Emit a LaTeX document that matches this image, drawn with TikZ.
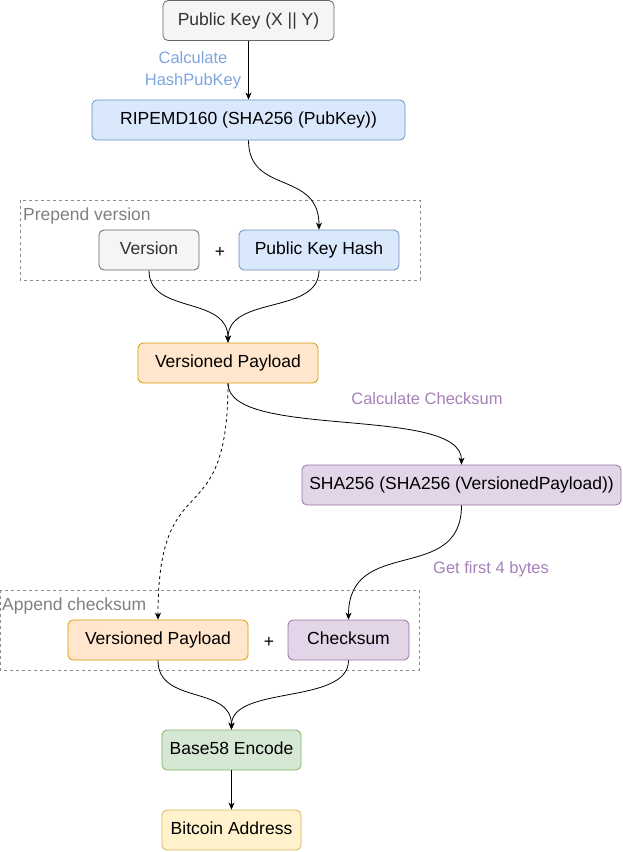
\documentclass[tikz,border=0pt]{standalone}
\usepackage{fontspec}
\setmainfont{Liberation Sans}
\usepackage{xcolor}
\usetikzlibrary{positioning,arrows.meta}

\definecolor{grayfill}{HTML}{F5F5F5}
\definecolor{graydraw}{HTML}{666666}
\definecolor{bluefill}{HTML}{DAE8FC}
\definecolor{bluedraw}{HTML}{6C8EBF}
\definecolor{orangefill}{HTML}{FFE6CC}
\definecolor{orangedraw}{HTML}{D79B00}
\definecolor{purplefill}{HTML}{E1D5E7}
\definecolor{purpledraw}{HTML}{9673A6}
\definecolor{greenfill}{HTML}{D5E8D4}
\definecolor{greendraw}{HTML}{82B366}
\definecolor{yellowfill}{HTML}{FFF2CC}
\definecolor{yellowdraw}{HTML}{D6B656}
\definecolor{bluelabel}{HTML}{7EA6E0}
\definecolor{purplelabel}{HTML}{A680B8}

\begin{document}
\begin{tikzpicture}[
    x=1pt, y=-1pt,
    >={Stealth[length=7pt,width=6pt,inset=2pt]},
    font=\fontsize{17.5}{21}\selectfont,
    blk/.style={draw, line width=0.8pt, rounded corners=5pt, minimum height=40pt, inner sep=0pt,
      text height=12.5pt, text depth=3.5pt, align=center},
    grey/.style={blk, fill=grayfill, draw=graydraw, text=black!80},
    blue/.style={blk, fill=bluefill, draw=bluedraw},
    orange/.style={blk, fill=orangefill, draw=orangedraw},
    purple/.style={blk, fill=purplefill, draw=purpledraw},
    green/.style={blk, fill=greenfill, draw=greendraw},
    yellow/.style={blk, fill=yellowfill, draw=yellowdraw},
    group/.style={draw=black!45, dashed, line width=0.6pt},
    grouplbl/.style={anchor=west, text=black!50, inner sep=0pt},
    lbl/.style={inner sep=0pt, font=\fontsize{16.5}{22}\selectfont},
    edge/.style={->, line width=0.8pt},
    plus/.style={inner sep=0pt},
  ]
    \useasboundingbox (0,0) rectangle (622,852);

    % ---------- public key hash ----------
    \node[grey, minimum width=171pt] (pubkey) at (248.5,20.5) {Public Key (X || Y)};
    \node[blue, minimum width=313pt] (hash) at (248.5,120) {RIPEMD160 (SHA256 (PubKey))};
    \draw[edge] (pubkey) -- (hash);
    \node[lbl, text=bluelabel, align=center] (hashlbl) at (193,70) {Calculate\\HashPubKey};

    % ---------- prepend version ----------
    \draw[group] (20,200) rectangle (420,280);
    \node[grouplbl] (prependlbl) at (23,216) {Prepend version};
    \node[grey, minimum width=100pt] (version) at (149,250) {Version};
    \node[plus] (plus1) at (220,252) {+};
    \node[blue, minimum width=160pt] (pkh) at (319,250) {Public Key Hash};
    \draw[edge] (hash.south) .. controls (248.5,195) and (319,170) .. (pkh.north);

    \node[orange, minimum width=180pt] (payload) at (228,363) {Versioned Payload};
    \draw[edge] (version.south) .. controls (149,315) and (228,295) .. (payload.north);
    \draw[edge] (pkh.south) .. controls (319,315) and (228,295) .. (payload.north);

    % ---------- checksum ----------
    \node[purple, minimum width=319pt] (sha) at (461.5,485) {SHA256 (SHA256 (VersionedPayload))};
    \draw[edge] (payload.south) .. controls (228,440) and (461.5,405) .. (sha.north);
    \node[lbl, text=purplelabel] (sumlbl) at (427,399) {Calculate Checksum};

    \draw[group] (0,590) rectangle (419,670);
    \node[grouplbl] (appendlbl) at (2,606) {Append checksum};
    \node[orange, minimum width=180pt] (payload2) at (158,640) {Versioned Payload};
    \node[plus] (plus2) at (269,642) {+};
    \node[purple, minimum width=121pt] (checksum) at (348.5,640) {Checksum};
    \draw[edge, dashed] (payload.south) .. controls (228,540) and (158,460) .. (payload2.north);
    \draw[edge] (sha.south) .. controls (461.5,585) and (348.5,535) .. (checksum.north);
    \node[lbl, text=purplelabel] (byteslbl) at (491,569) {Get first 4 bytes};

    % ---------- encode ----------
    \node[green, minimum width=139pt] (encode) at (231.5,750) {Base58 Encode};
    \node[yellow, minimum width=139pt] (address) at (231.5,830) {Bitcoin Address};
    \draw[edge] (payload2.south) .. controls (158,705) and (231.5,685) .. (encode.north);
    \draw[edge] (checksum.south) .. controls (348.5,705) and (231.5,685) .. (encode.north);
    \draw[edge] (encode) -- (address);
  \end{tikzpicture}
\end{document}
